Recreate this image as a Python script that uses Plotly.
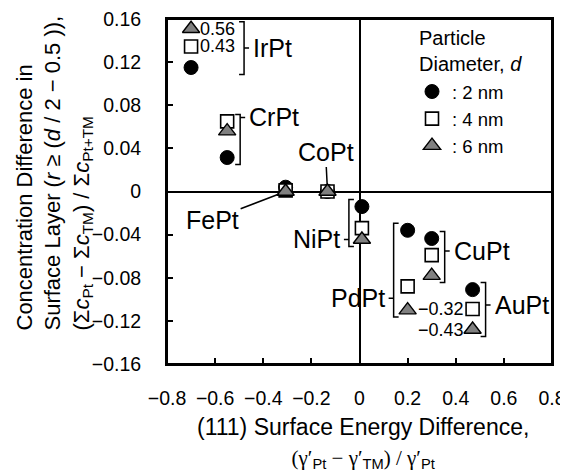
import plotly.graph_objects as go

# ---------------- data ----------------
alloys = ["IrPt", "CrPt", "FePt", "CoPt", "NiPt", "PdPt", "CuPt", "AuPt"]
energy_diff = [-0.70, -0.55, -0.307, -0.133, 0.01, 0.20, 0.30, 0.47]
conc_2nm = [0.115, 0.0315, 0.004, 0.0, -0.014, -0.036, -0.0436, -0.091]
conc_4nm = [0.43, 0.065, 0.001, 0.0, -0.034, -0.088, -0.059, -0.32]
conc_6nm = [0.56, 0.056, 0.0, 0.0, -0.0445, -0.110, -0.078, -0.43]
# off-scale values are drawn just inside the frame, with their true value printed beside them
shown_4nm = [0.1345, 0.065, 0.001, 0.0, -0.034, -0.088, -0.059, -0.109]
shown_6nm = [0.151, 0.056, 0.0, 0.0, -0.0445, -0.110, -0.078, -0.128]
size_names = [":\u00a02\u00a0nm", ":\u00a04\u00a0nm", ":\u00a06\u00a0nm"]

x_ticks = [-0.8, -0.6, -0.4, -0.2, 0, 0.2, 0.4, 0.6, 0.8]
x_ticklabels = ["−0.8", "−0.6", "−0.4", "−0.2", "0", "0.2", "0.4", "0.6", "0.8"]
y_ticks = [-0.16, -0.12, -0.08, -0.04, 0, 0.04, 0.08, 0.12, 0.16]
y_ticklabels = ["−0.16", "−0.12", "−0.08", "−0.04", "0", "0.04", "0.08", "0.12", "0.16"]

# ---------------- layout geometry ----------------
# (the page body adds an 8 px offset, so the figure is 8 px smaller)
W, H = 560, 464
ML, MR, MT, MB = 159, 16, 11, 108
PW, PH = W - ML - MR, H - MT - MB
SX0, SY0 = 8 + ML, 8 + MT          # screen position of plot top-left
XR = [-0.8, 0.8]
YR = [-0.16, 0.16]
px_x = PW / (XR[1] - XR[0])
px_y = PH / (YR[1] - YR[0])


def paper_x(sx):
    return (sx - SX0) / PW


def paper_y(sy):
    return (SY0 + PH - sy) / PH


FONT = "Liberation Sans, Arial, sans-serif"
SERIF = "Liberation Serif, Times New Roman, serif"

fig = go.Figure()

fig.add_trace(go.Scatter(
    x=energy_diff, y=conc_2nm, mode="markers", name=size_names[0],
    marker=dict(symbol="circle", size=14, color="black",
                line=dict(color="black", width=1)),
))
fig.add_trace(go.Scatter(
    x=energy_diff, y=shown_4nm, mode="markers", name=size_names[1],
    marker=dict(symbol="square", size=13, color="white",
                line=dict(color="black", width=1.6)),
))
fig.add_trace(go.Scatter(
    x=energy_diff, y=shown_6nm, mode="markers", name=size_names[2],
    marker=dict(symbol="triangle-up", size=15, color="#808080",
                line=dict(color="black", width=1.4)),
))

annotations = []
shapes = []


def fmt(v):
    return f"{v:.2f}".replace("-", "−")


# value labels for the off-scale markers
for i, a in enumerate(alloys):
    for real, shown in ((conc_4nm[i], shown_4nm[i]), (conc_6nm[i], shown_6nm[i])):
        if abs(real - shown) > 1e-9:
            right = energy_diff[i] < 0
            annotations.append(dict(
                x=energy_diff[i], y=shown, xref="x", yref="y", text=fmt(real),
                showarrow=False, xanchor="left" if right else "right",
                xshift=7 if right else -7, yanchor="middle",
                font=dict(family=FONT, size=18, color="black"),
            ))

# bracket configuration (side, horizontal offset in px, label level)
bracket_cfg = {
    "IrPt": ("right", 53, "mid"),
    "CrPt": ("right", 13, "4nm"),
    "NiPt": ("left", -13, "6nm"),
    "PdPt": ("left", -14, "4-6"),
    "CuPt": ("right", 13, "4nm"),
    "AuPt": ("right", 13, "4nm"),
}
PAD = 7 / px_y
TICK = 5 / px_x
CONN = 5 / px_x
for i, a in enumerate(alloys):
    if a not in bracket_cfg:
        continue
    side, off, level = bracket_cfg[a]
    ys = [conc_2nm[i], shown_4nm[i], shown_6nm[i]]
    top = max(ys) + PAD
    bot = min(ys) - PAD
    xb = energy_diff[i] + off / px_x
    if level == "mid":
        yc = (top + bot) / 2
    elif level == "4nm":
        yc = shown_4nm[i] + 4 / px_y
    elif level == "6nm":
        yc = shown_6nm[i]
    else:
        yc = (shown_4nm[i] + shown_6nm[i]) / 2
    d = -1 if side == "right" else 1
    path = (f"M {xb + d * TICK},{top} L {xb},{top} L {xb},{bot} L {xb + d * TICK},{bot} "
            f"M {xb},{yc} L {xb - d * CONN},{yc}")
    shapes.append(dict(type="path", xref="x", yref="y", path=path,
                       line=dict(color="black", width=1.5)))
    annotations.append(dict(
        x=xb, y=yc, xref="x", yref="y", text=a, showarrow=False,
        xanchor="left" if side == "right" else "right",
        xshift=7 if side == "right" else -7, yanchor="middle",
        font=dict(family=FONT, size=25, color="black"),
    ))

# labels with leader lines
leader_cfg = {"FePt": (-73, 28), "CoPt": (-2, -40)}
for i, a in enumerate(alloys):
    if a in leader_cfg:
        ax, ay = leader_cfg[a]
        annotations.append(dict(
            x=energy_diff[i], y=shown_6nm[i], xref="x", yref="y", text=a,
            showarrow=True, arrowhead=0, arrowwidth=1.5, arrowcolor="black",
            ax=ax, ay=ay, standoff=7,
            font=dict(family=FONT, size=25, color="black"),
        ))

# plot frame
shapes.append(dict(type="rect", xref="paper", yref="paper", x0=0, x1=1, y0=0, y1=1,
                   line=dict(color="black", width=2), layer="above"))

# axis titles
annotations.append(dict(
    x=0, y=paper_y(173.5), xref="paper", yref="paper",
    text=("Concentration Difference in<br>"
          "Surface Layer (<i>r</i> ≥ (<i>d</i> / 2 − 0.5 )),<br>"
          "(Σ<i>c</i><sub>Pt</sub> − Σ<i>c</i><sub>TM</sub>) / Σ<i>c</i><sub>Pt+TM</sub>"),
    textangle=-90, showarrow=False, xanchor="center", yanchor="middle",
    xshift=-113, align="left",
    font=dict(family=FONT, size=22, color="black"),
))
g = f"<span style='font-family:{SERIF}'>"
annotations.append(dict(
    x=paper_x(363), y=0, xref="paper", yref="paper",
    text=("(111) Surface Energy Difference,<br>"
          f"<span style='font-size:21px'>{g}(γ′</span><sub>Pt</sub>{g} − γ′</span>"
          f"<sub>TM</sub>{g}) / γ′</span><sub>Pt</sub></span>"),
    showarrow=False, xanchor="center", yanchor="top", yshift=-48,
    font=dict(family=FONT, size=23, color="black"),
))
# legend heading
annotations.append(dict(
    x=paper_x(417), y=paper_y(25), xref="paper", yref="paper",
    text="Particle<br>Diameter, <i>d</i>", showarrow=False,
    xanchor="left", yanchor="top", align="left",
    font=dict(family=FONT, size=20, color="black"),
))

axis_common = dict(
    showgrid=False, zeroline=True, zerolinecolor="black", zerolinewidth=2,
    showline=True, linecolor="black", linewidth=2, mirror=True,
    ticks="inside", ticklen=6, tickwidth=1.6, tickcolor="black",
    tickfont=dict(family=FONT, size=19.5, color="black"),
    tickmode="array", automargin=False, ticklabeloverflow="allow",
)

fig.update_layout(
    width=W, height=H,
    margin=dict(l=ML, r=MR, t=MT, b=MB, autoexpand=False),
    paper_bgcolor="white", plot_bgcolor="white",
    xaxis=dict(range=XR, tickvals=x_ticks, ticktext=x_ticklabels,
               ticklabelstandoff=16, **axis_common),
    yaxis=dict(range=YR, tickvals=y_ticks, ticktext=y_ticklabels,
               ticklabelstandoff=20, **axis_common),
    showlegend=True,
    legend=dict(
        x=paper_x(412), y=paper_y(73),
        xanchor="left", yanchor="top",
        bgcolor="rgba(0,0,0,0)", borderwidth=0,
        font=dict(family=FONT, size=18.5, color="black"),
        itemwidth=30, tracegroupgap=0,
    ),
    annotations=annotations,
    shapes=shapes,
)

fig.write_html("out.html")
